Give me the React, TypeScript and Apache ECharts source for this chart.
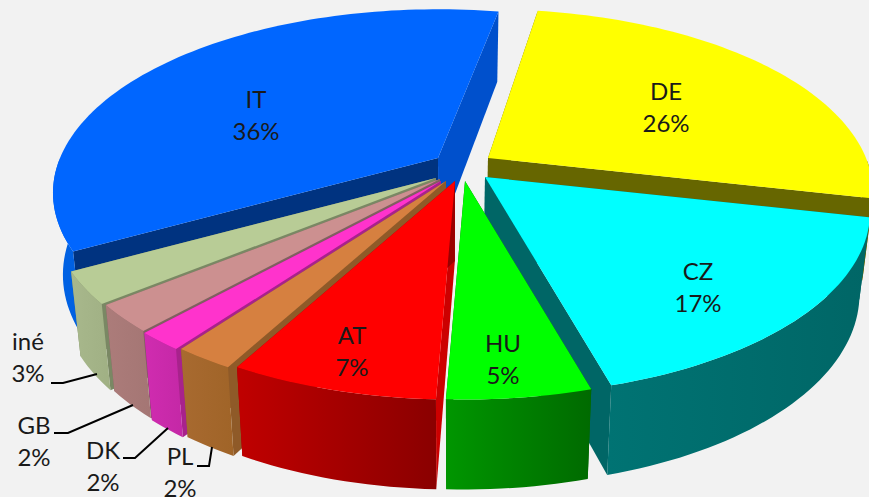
import React, { useEffect, useRef } from "react";
import * as echarts from "echarts";

const categories = ["DE", "CZ", "HU", "AT", "PL", "DK", "GB", "iné", "IT"];
const values = [26, 17.1, 5.05, 7.33, 2.14, 1.67, 2.42, 2.83, 36];
const percentLabels = ["26%", "17%", "5%", "7%", "2%", "2%", "2%", "3%", "36%"];

const topColors = ["#ffff00", "#00ffff", "#00ff00", "#ff0000", "#d68040", "#ff33cc", "#cc9090", "#b8cc96", "#0066ff"];
const startWallColors = ["#666600", "#006666", "#006600", "#cc0000", "#8f5a28", "#a8228c", "#806060", "#7a8864", "#003380"];
const endWallColors = ["#666600", "#006666", "#006600", "#990000", "#8f5a28", "#a8228c", "#806060", "#7a8864", "#0050cc"];
const outerLeft = ["#666600", "#007373", "#009600", "#c00000", "#a86a30", "#d02cb0", "#ac7c7a", "#a8b88c", "#0062e6"];
const outerRight = ["#666600", "#006666", "#006a00", "#8a0000", "#a06428", "#c428a6", "#a47674", "#a0b084", "#0060e0"];

// Offset of each exploded slice's tip, and its paint order (back to front).
const tips = [[488, 158], [485, 177], [465, 181], [455, 181], [446, 181], [441, 181], [440, 179], [436, 178], [438, 158]];
const paintRank = [1, 6, 8, 7, 5, 4, 3, 2, 0];

const labelSpots = [[666, 106], [698, 286], [503, 358], [352, 350], [180, 471], [103, 465], [34, 440], [28, 356], [256, 114]];
const leaderLines = [
  [[51, 383], [63, 383], [97, 374]],
  [[54, 433], [68, 433], [133, 405]],
  [[123, 458], [135, 458], [168, 428]],
  [[197, 466], [209, 466], [212, 447]],
];

const START_ANGLE = 9;
const DEG_PER_PERCENT = 3.6;
const RX = 378;
const RY = 177;
const PERSPECTIVE = 0.19;
const CENTER_X = 450;
const DEPTH = 80;
const DEPTH_SLOPE = 10;
const BOTTOM_SHRINK = 0.975;

function rim(tip: number[], deg: number) {
  const t = (deg * Math.PI) / 180;
  const u = Math.sin(t);
  const v = -Math.cos(t);
  const s = 1 / (1 - PERSPECTIVE * v);
  return { x: tip[0] + RX * u * s, y: tip[1] + RY * v * s, v };
}
function below(p: { x: number; y: number; v: number }) {
  return [CENTER_X + (p.x - CENTER_X) * BOTTOM_SHRINK, p.y + DEPTH + DEPTH_SLOPE * p.v];
}

function renderSlice(params: any, api: any) {
  const i = params.dataIndex;
  let before = 0;
  for (let k = 0; k < i; k++) before += values[k];
  const a0 = START_ANGLE + before * DEG_PER_PERCENT;
  const a1 = a0 + api.value(0) * DEG_PER_PERCENT;
  const tip = tips[i];
  const steps = Math.max(2, Math.ceil((a1 - a0) / 1.5));
  const arc: { x: number; y: number; v: number }[] = [];
  for (let k = 0; k <= steps; k++) arc.push(rim(tip, a0 + ((a1 - a0) * k) / steps));
  const apex = { x: tip[0], y: tip[1], v: 0 };
  const bApex = below(apex);
  const base = paintRank[i] * 10;
  const poly = (points: number[][], fill: any, z2: number) => ({
    type: "polygon",
    z2,
    shape: { points },
    style: { fill, stroke: "none" },
  });
  const first = arc[0];
  const last = arc[arc.length - 1];
  const upper = arc.map((p) => [p.x, p.y]);
  const front = arc.filter((p) => p.v >= 0);
  const children: any[] = [
    poly([[apex.x, apex.y], [first.x, first.y], below(first), bApex], startWallColors[i], base),
    poly([[apex.x, apex.y], [last.x, last.y], below(last), bApex], endWallColors[i], base + 1),
  ];
  if (front.length > 1) {
    children.push(
      poly(
        [...front.map((p) => [p.x, p.y]), ...front.map(below).reverse()],
        new echarts.graphic.LinearGradient(0, 0, 1, 0, [
          { offset: 0, color: outerLeft[i] },
          { offset: 1, color: outerRight[i] },
        ]),
        base + 2
      )
    );
  }
  children.push(poly([[apex.x, apex.y], ...upper], topColors[i], base + 3));
  return { type: "group", children };
}

export default function App() {
  const ref = useRef<HTMLDivElement>(null);
  useEffect(() => {
    const chart = echarts.init(ref.current!, null, { renderer: "svg" });
    chart.setOption({
      animation: false,
      backgroundColor: "#f2f2f2",
      series: [
        {
          type: "custom",
          coordinateSystem: "none",
          silent: true,
          data: values.map((v) => [v]),
          renderItem: renderSlice,
        },
      ],
      graphic: [
        ...categories.map((c, i) => ({
          type: "text",
          z: 100,
          x: labelSpots[i][0],
          y: labelSpots[i][1],
          silent: true,
          style: {
            text: c + "\n" + percentLabels[i],
            fill: "#1a1a1a",
            font: '24px Lato, "Open Sans", sans-serif',
            lineHeight: 32,
            textAlign: "center",
            textVerticalAlign: "middle",
          },
        })),
        ...leaderLines.map((pts) => ({
          type: "polyline",
          z: 100,
          silent: true,
          shape: { points: pts },
          style: { stroke: "#000000", lineWidth: 2, fill: "none" },
        })),
      ],
    });
    return () => chart.dispose();
  }, []);
  return <div ref={ref} style={{ position: "absolute", left: 0, top: 0, width: 869, height: 497, overflow: "hidden" }} />;
}
